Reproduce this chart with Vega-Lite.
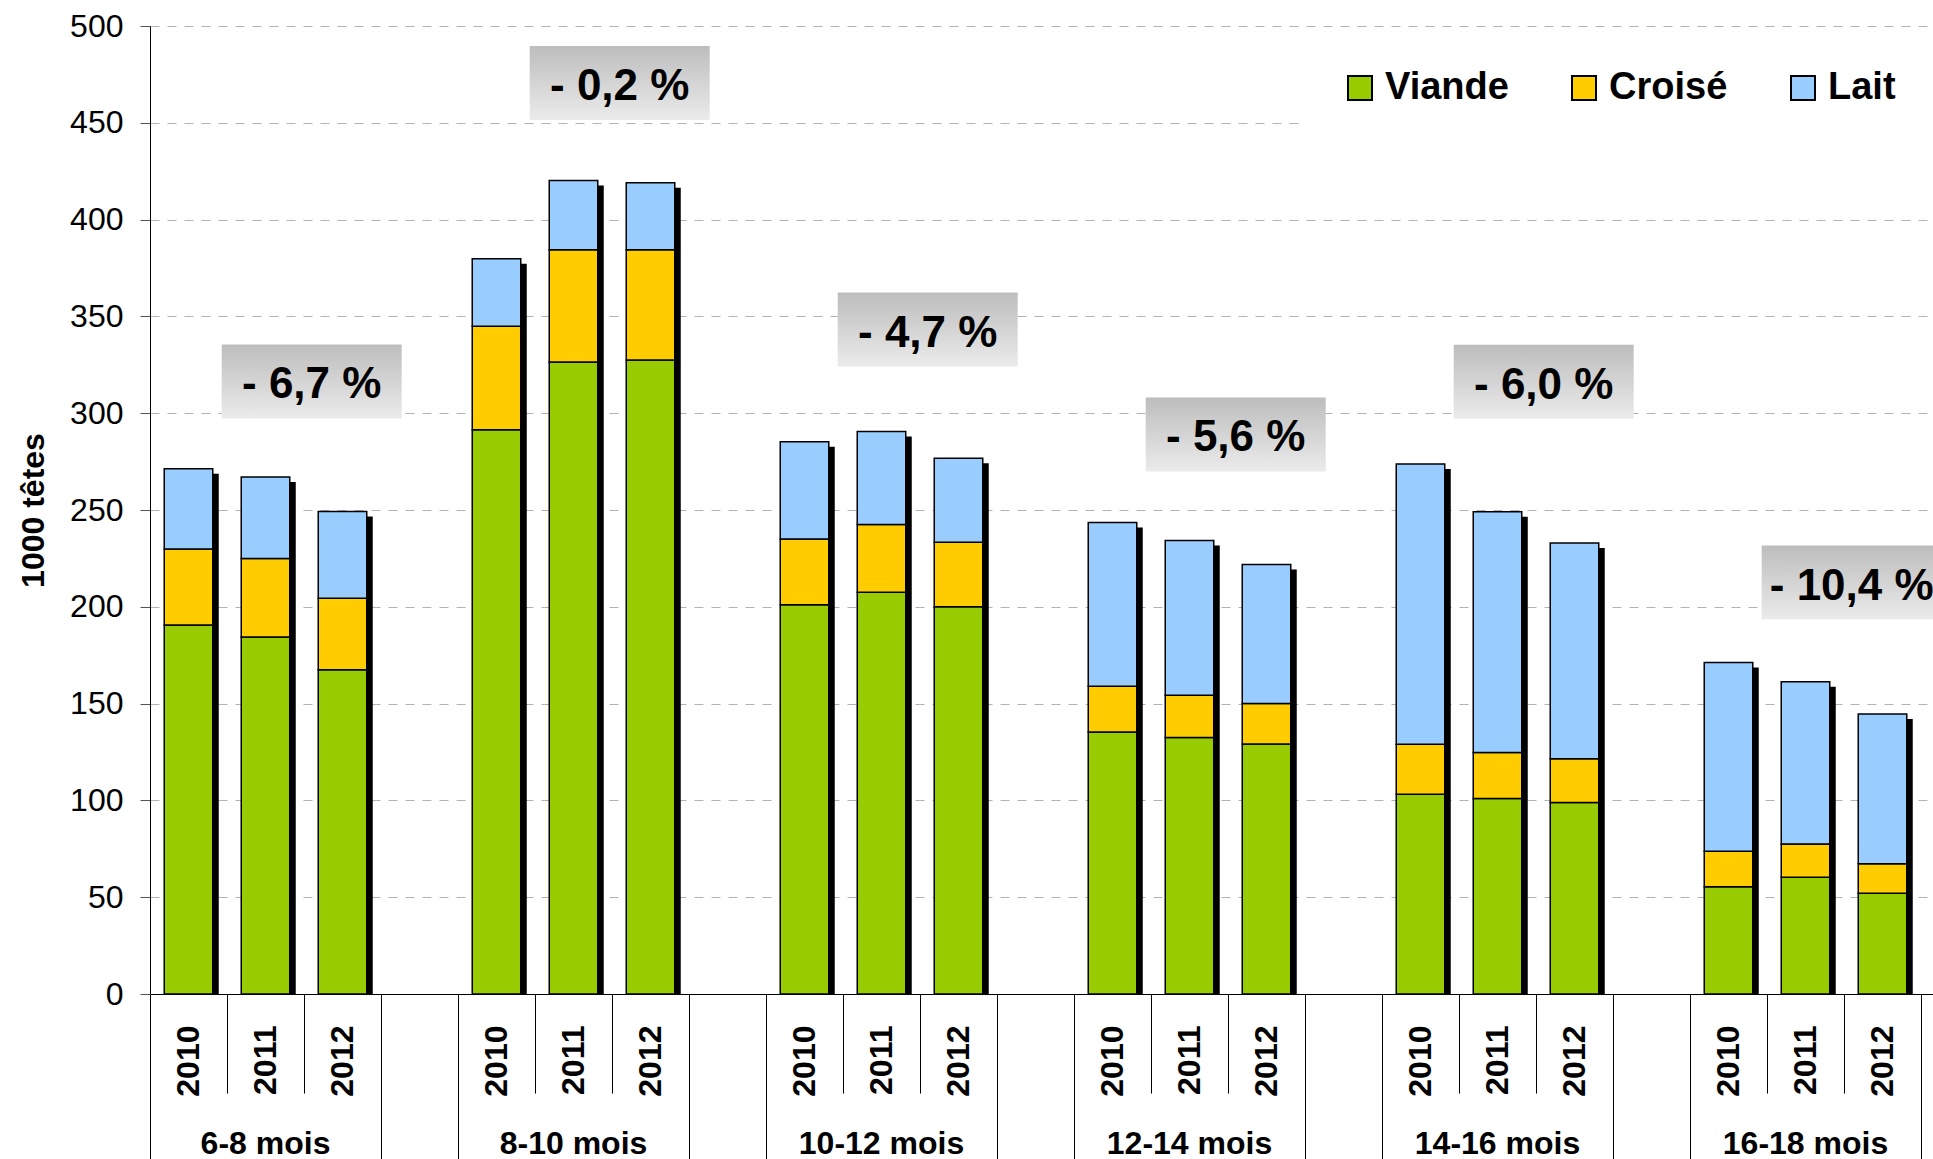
{
  "$schema": "https://vega.github.io/schema/vega-lite/v6.json",
  "width": 1783,
  "height": 968,
  "autosize": {"type": "none"},
  "padding": {"left": 150, "top": 26, "right": 0, "bottom": 165},
  "background": "white",
  "config": {
    "font": "Liberation Sans",
    "view": {"stroke": null},
    "axis": {"labelFont": "Liberation Sans", "titleFont": "Liberation Sans", "labelColor": "#000", "titleColor": "#000"},
    "legend": {"labelFont": "Liberation Sans"},
    "text": {"font": "Liberation Sans"}
  },
  "datasets": {
    "barres": [
      {"barre": "6-8 mois|2010", "type": "Viande", "valeur": 190.6},
      {"barre": "6-8 mois|2010", "type": "Croisé", "valeur": 39.2},
      {"barre": "6-8 mois|2010", "type": "Lait", "valeur": 41.5},
      {"barre": "6-8 mois|2011", "type": "Viande", "valeur": 184.4},
      {"barre": "6-8 mois|2011", "type": "Croisé", "valeur": 40.5},
      {"barre": "6-8 mois|2011", "type": "Lait", "valeur": 42.1},
      {"barre": "6-8 mois|2012", "type": "Viande", "valeur": 167.5},
      {"barre": "6-8 mois|2012", "type": "Croisé", "valeur": 36.9},
      {"barre": "6-8 mois|2012", "type": "Lait", "valeur": 44.8},
      {"barre": "8-10 mois|2010", "type": "Viande", "valeur": 291.5},
      {"barre": "8-10 mois|2010", "type": "Croisé", "valeur": 53.4},
      {"barre": "8-10 mois|2010", "type": "Lait", "valeur": 34.9},
      {"barre": "8-10 mois|2011", "type": "Viande", "valeur": 326.5},
      {"barre": "8-10 mois|2011", "type": "Croisé", "valeur": 57.9},
      {"barre": "8-10 mois|2011", "type": "Lait", "valeur": 35.8},
      {"barre": "8-10 mois|2012", "type": "Viande", "valeur": 327.5},
      {"barre": "8-10 mois|2012", "type": "Croisé", "valeur": 56.9},
      {"barre": "8-10 mois|2012", "type": "Lait", "valeur": 34.6},
      {"barre": "10-12 mois|2010", "type": "Viande", "valeur": 201.0},
      {"barre": "10-12 mois|2010", "type": "Croisé", "valeur": 34.0},
      {"barre": "10-12 mois|2010", "type": "Lait", "valeur": 50.3},
      {"barre": "10-12 mois|2011", "type": "Viande", "valeur": 207.5},
      {"barre": "10-12 mois|2011", "type": "Croisé", "valeur": 35.0},
      {"barre": "10-12 mois|2011", "type": "Lait", "valeur": 48.1},
      {"barre": "10-12 mois|2012", "type": "Viande", "valeur": 200.0},
      {"barre": "10-12 mois|2012", "type": "Croisé", "valeur": 33.3},
      {"barre": "10-12 mois|2012", "type": "Lait", "valeur": 43.4},
      {"barre": "12-14 mois|2010", "type": "Viande", "valeur": 135.3},
      {"barre": "12-14 mois|2010", "type": "Croisé", "valeur": 23.7},
      {"barre": "12-14 mois|2010", "type": "Lait", "valeur": 84.6},
      {"barre": "12-14 mois|2011", "type": "Viande", "valeur": 132.5},
      {"barre": "12-14 mois|2011", "type": "Croisé", "valeur": 21.8},
      {"barre": "12-14 mois|2011", "type": "Lait", "valeur": 79.9},
      {"barre": "12-14 mois|2012", "type": "Viande", "valeur": 129.1},
      {"barre": "12-14 mois|2012", "type": "Croisé", "valeur": 20.9},
      {"barre": "12-14 mois|2012", "type": "Lait", "valeur": 71.8},
      {"barre": "14-16 mois|2010", "type": "Viande", "valeur": 103.2},
      {"barre": "14-16 mois|2010", "type": "Croisé", "valeur": 25.8},
      {"barre": "14-16 mois|2010", "type": "Lait", "valeur": 144.7},
      {"barre": "14-16 mois|2011", "type": "Viande", "valeur": 101.0},
      {"barre": "14-16 mois|2011", "type": "Croisé", "valeur": 23.7},
      {"barre": "14-16 mois|2011", "type": "Lait", "valeur": 124.4},
      {"barre": "14-16 mois|2012", "type": "Viande", "valeur": 98.9},
      {"barre": "14-16 mois|2012", "type": "Croisé", "valeur": 22.6},
      {"barre": "14-16 mois|2012", "type": "Lait", "valeur": 111.4},
      {"barre": "16-18 mois|2010", "type": "Viande", "valeur": 55.4},
      {"barre": "16-18 mois|2010", "type": "Croisé", "valeur": 18.3},
      {"barre": "16-18 mois|2010", "type": "Lait", "valeur": 97.5},
      {"barre": "16-18 mois|2011", "type": "Viande", "valeur": 60.3},
      {"barre": "16-18 mois|2011", "type": "Croisé", "valeur": 17.2},
      {"barre": "16-18 mois|2011", "type": "Lait", "valeur": 83.8},
      {"barre": "16-18 mois|2012", "type": "Viande", "valeur": 52.1},
      {"barre": "16-18 mois|2012", "type": "Croisé", "valeur": 15.2},
      {"barre": "16-18 mois|2012", "type": "Lait", "valeur": 77.3}
    ],
    "types": [
      {"type": "Viande", "rang": 1},
      {"type": "Croisé", "rang": 2},
      {"type": "Lait", "rang": 3}
    ],
    "annotations": [
      {"barre": "6-8 mois|2012", "texte": "- 6,7 %", "niveau": 316.4},
      {"barre": "8-10 mois|2012", "texte": "- 0,2 %", "niveau": 470.6},
      {"barre": "10-12 mois|2012", "texte": "- 4,7 %", "niveau": 343.2},
      {"barre": "12-14 mois|2012", "texte": "- 5,6 %", "niveau": 289.0},
      {"barre": "14-16 mois|2012", "texte": "- 6,0 %", "niveau": 316.2},
      {"barre": "16-18 mois|2012", "texte": "- 10,4 %", "niveau": 212.5}
    ]
  },
  "resolve": {"axis": {"x": "independent", "y": "independent"}},
  "layer": [
    {
      "data": {"name": "barres"},
      "mark": {"type": "bar", "color": "#000", "width": {"band": 0.63}, "xOffset": 6, "yOffset": 5, "y2Offset": 5, "clip": true},
      "encoding": {
        "x": {
          "field": "barre", "type": "nominal",
          "scale": {"type": "band", "domain": ["6-8 mois|2010", "6-8 mois|2011", "6-8 mois|2012", "6-8 mois|", "8-10 mois|2010", "8-10 mois|2011", "8-10 mois|2012", "8-10 mois|", "10-12 mois|2010", "10-12 mois|2011", "10-12 mois|2012", "10-12 mois|", "12-14 mois|2010", "12-14 mois|2011", "12-14 mois|2012", "12-14 mois|", "14-16 mois|2010", "14-16 mois|2011", "14-16 mois|2012", "14-16 mois|", "16-18 mois|2010", "16-18 mois|2011", "16-18 mois|2012", "16-18 mois|"], "range": [0, 1848], "paddingInner": 0, "paddingOuter": 0},
          "axis": {
            "orient": "bottom", "labels": false, "ticks": true, "bandPosition": 0, "tickExtra": false, "tickSize": 165,
            "values": ["6-8 mois|2010", "6-8 mois|", "8-10 mois|2010", "8-10 mois|", "10-12 mois|2010", "10-12 mois|", "12-14 mois|2010", "12-14 mois|", "14-16 mois|2010", "14-16 mois|", "16-18 mois|2010", "16-18 mois|"],
            "tickColor": "#000", "tickWidth": 1, "domain": true, "domainColor": "#000", "domainWidth": 1,
            "grid": false, "title": null
          }
        },
        "y": {
          "aggregate": "sum", "field": "valeur", "type": "quantitative",
          "scale": {"domain": [0, 500], "nice": false, "zero": true},
          "axis": null
        }
      }
    },
    {
      "data": {"name": "barres"},
      "transform": [{"lookup": "type", "from": {"data": {"name": "types"}, "key": "type", "fields": ["rang"]}}],
      "mark": {"type": "bar", "width": {"band": 0.63}, "stroke": "#000", "strokeWidth": 1.5},
      "encoding": {
        "x": {
          "field": "barre", "type": "nominal",
          "scale": {"type": "band", "domain": ["6-8 mois|2010", "6-8 mois|2011", "6-8 mois|2012", "6-8 mois|", "8-10 mois|2010", "8-10 mois|2011", "8-10 mois|2012", "8-10 mois|", "10-12 mois|2010", "10-12 mois|2011", "10-12 mois|2012", "10-12 mois|", "12-14 mois|2010", "12-14 mois|2011", "12-14 mois|2012", "12-14 mois|", "14-16 mois|2010", "14-16 mois|2011", "14-16 mois|2012", "14-16 mois|", "16-18 mois|2010", "16-18 mois|2011", "16-18 mois|2012", "16-18 mois|"], "range": [0, 1848], "paddingInner": 0, "paddingOuter": 0},
          "axis": {
            "orient": "bottom", "domain": false, "ticks": false, "tickSize": 0, "grid": false, "title": null,
            "labelExpr": "split(datum.value, '|')[1]", "labelAngle": 270, "labelAlign": "right", "labelBaseline": "middle",
            "labelPadding": 31, "labelFontSize": 32, "labelFontWeight": "bold", "labelOverlap": false
          }
        },
        "y": {
          "field": "valeur", "type": "quantitative", "stack": "zero",
          "scale": {"domain": [0, 500], "nice": false, "zero": true},
          "axis": {
            "orient": "left",
            "values": [0, 50, 100, 150, 200, 250, 300, 350, 400, 450, 500],
            "title": "1000 têtes", "titleFontSize": 32, "titleFontWeight": "bold", "titlePadding": 19,
            "labelFontSize": 32, "labelPadding": 17, "tickSize": 10, "tickColor": "#555",
            "domain": true, "domainColor": "#000", "domainWidth": 1,
            "grid": true, "gridColor": "#b3b3b3", "gridDash": [9, 8], "gridWidth": 1
          }
        },
        "color": {
          "field": "type", "type": "nominal",
          "scale": {"domain": ["Viande", "Croisé", "Lait"], "range": ["#99CC00", "#FFCC00", "#99CCFF"]},
          "legend": {
            "title": null, "orient": "none", "legendX": 1155, "legendY": 7, "direction": "horizontal",
            "padding": 36, "fillColor": "#ffffff", "symbolType": "square", "symbolSize": 576,
            "symbolStrokeColor": "#000", "symbolStrokeWidth": 2, "symbolOpacity": 1,
            "labelFontSize": 38, "labelFontWeight": "bold", "labelColor": "#000", "labelOffset": 6,
            "columnPadding": 56, "labelLimit": 400
          }
        },
        "order": {"field": "rang", "type": "quantitative", "sort": "ascending"}
      }
    },
    {
      "data": {"name": "annotations"},
      "mark": {
        "type": "point", "shape": "M-1,-0.411H1V0.411H-1Z", "size": 32400, "filled": true, "opacity": 1, "strokeWidth": 0,
        "fill": {"gradient": "linear", "x1": 0, "y1": 0, "x2": 0, "y2": 1, "stops": [{"offset": 0, "color": "#bdbdbd"}, {"offset": 1, "color": "#ebebeb"}]}
      },
      "encoding": {
        "x": {
          "field": "barre", "type": "nominal", "bandPosition": 0.1,
          "scale": {"type": "band", "domain": ["6-8 mois|2010", "6-8 mois|2011", "6-8 mois|2012", "6-8 mois|", "8-10 mois|2010", "8-10 mois|2011", "8-10 mois|2012", "8-10 mois|", "10-12 mois|2010", "10-12 mois|2011", "10-12 mois|2012", "10-12 mois|", "12-14 mois|2010", "12-14 mois|2011", "12-14 mois|2012", "12-14 mois|", "14-16 mois|2010", "14-16 mois|2011", "14-16 mois|2012", "14-16 mois|", "16-18 mois|2010", "16-18 mois|2011", "16-18 mois|2012", "16-18 mois|"], "range": [0, 1848], "paddingInner": 0, "paddingOuter": 0},
          "axis": {
            "orient": "bottom", "values": ["6-8 mois|2011", "8-10 mois|2011", "10-12 mois|2011", "12-14 mois|2011", "14-16 mois|2011", "16-18 mois|2011"],
            "domain": false, "ticks": false, "tickSize": 0, "grid": false, "title": null,
            "labelExpr": "split(datum.value, '|')[0]", "labelAngle": 0, "labelAlign": "center", "labelBaseline": "alphabetic",
            "labelPadding": 159, "labelFontSize": 32, "labelFontWeight": "bold", "labelOverlap": false
          }
        },
        "y": {"field": "niveau", "type": "quantitative", "scale": {"domain": [0, 500], "nice": false, "zero": true}, "axis": null}
      }
    },
    {
      "data": {"name": "annotations"},
      "mark": {"type": "text", "fontSize": 44, "fontWeight": "bold", "color": "#000", "align": "center", "baseline": "middle", "dy": 4},
      "encoding": {
        "x": {
          "field": "barre", "type": "nominal", "bandPosition": 0.1,
          "scale": {"type": "band", "domain": ["6-8 mois|2010", "6-8 mois|2011", "6-8 mois|2012", "6-8 mois|", "8-10 mois|2010", "8-10 mois|2011", "8-10 mois|2012", "8-10 mois|", "10-12 mois|2010", "10-12 mois|2011", "10-12 mois|2012", "10-12 mois|", "12-14 mois|2010", "12-14 mois|2011", "12-14 mois|2012", "12-14 mois|", "14-16 mois|2010", "14-16 mois|2011", "14-16 mois|2012", "14-16 mois|", "16-18 mois|2010", "16-18 mois|2011", "16-18 mois|2012", "16-18 mois|"], "range": [0, 1848], "paddingInner": 0, "paddingOuter": 0},
          "axis": {
            "orient": "bottom", "labels": false, "ticks": true, "bandPosition": 0, "tickExtra": false, "tickSize": 99,
            "values": ["6-8 mois|2011", "6-8 mois|2012", "8-10 mois|2011", "8-10 mois|2012", "10-12 mois|2011", "10-12 mois|2012", "12-14 mois|2011", "12-14 mois|2012", "14-16 mois|2011", "14-16 mois|2012", "16-18 mois|2011", "16-18 mois|2012"],
            "tickColor": "#000", "tickWidth": 1, "domain": false, "grid": false, "title": null
          }
        },
        "y": {"field": "niveau", "type": "quantitative", "scale": {"domain": [0, 500], "nice": false, "zero": true}, "axis": null},
        "text": {"field": "texte", "type": "nominal"}
      }
    }
  ]
}
